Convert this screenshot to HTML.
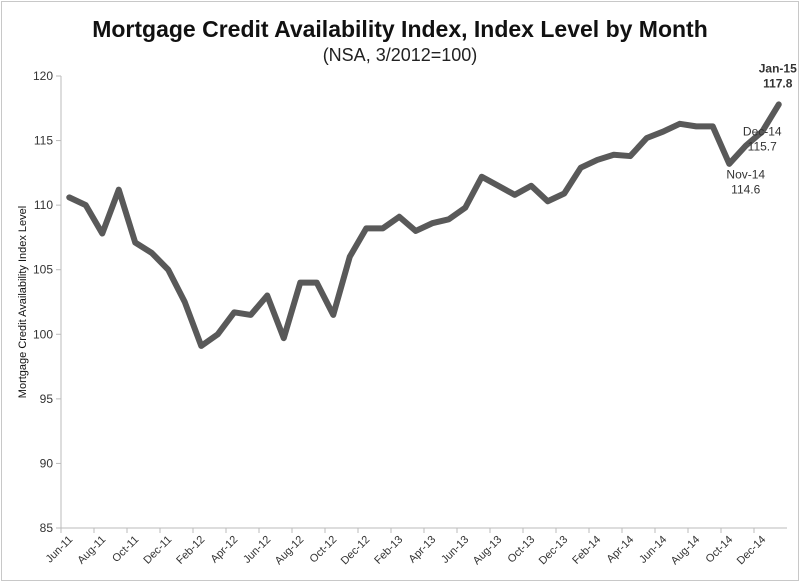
<!DOCTYPE html>
<html><head><meta charset="utf-8"><style>
body{margin:0;background:#fff;}
svg{display:block;font-family:"Liberation Sans",sans-serif;}
</style></head><body>
<svg width="800" height="583" viewBox="0 0 800 583">
<rect x="1.5" y="1.5" width="797" height="579" fill="#fff" stroke="#c8c8c8"/>
<text x="400" y="37" text-anchor="middle" font-size="23" font-weight="bold" fill="#111">Mortgage Credit Availability Index, Index Level by Month</text>
<text x="400" y="61" text-anchor="middle" font-size="18" fill="#222">(NSA, 3/2012=100)</text>
<text transform="translate(26,302) rotate(-90)" text-anchor="middle" font-size="11" fill="#111">Mortgage Credit Availability Index Level</text>
<g id="axes"></g>
<g id="marks"></g>
</svg>
<script>
const categories=["Jun-11","Jul-11","Aug-11","Sep-11","Oct-11","Nov-11","Dec-11","Jan-12","Feb-12","Mar-12","Apr-12","May-12","Jun-12","Jul-12","Aug-12","Sep-12","Oct-12","Nov-12","Dec-12","Jan-13","Feb-13","Mar-13","Apr-13","May-13","Jun-13","Jul-13","Aug-13","Sep-13","Oct-13","Nov-13","Dec-13","Jan-14","Feb-14","Mar-14","Apr-14","May-14","Jun-14","Jul-14","Aug-14","Sep-14","Oct-14","Nov-14","Dec-14","Jan-15"];
const values=[110.6,110.0,107.8,111.2,107.1,106.3,105.0,102.5,99.1,100.0,101.7,101.5,103.0,99.7,104.0,104.0,101.5,106.0,108.2,108.2,109.1,108.0,108.6,108.9,109.8,112.2,111.5,110.8,111.5,110.3,110.9,112.9,113.5,113.9,113.8,115.2,115.7,116.3,116.1,116.1,113.2,114.6,115.7,117.8];
const yTicks=[85,90,95,100,105,110,115,120];
const NS="http://www.w3.org/2000/svg";
const x0=61,step=16.5,yMin=85,yMax=120,yBot=528,yTop=76;
const xC=i=>x0+step*(i+0.5);
const xB=i=>x0+step*i;
const y=v=>yBot-(v-yMin)/(yMax-yMin)*(yBot-yTop);
function mk(tag,attrs,parent,txt){const e=document.createElementNS(NS,tag);for(const k in attrs)e.setAttribute(k,attrs[k]);if(txt!==undefined)e.textContent=txt;parent.appendChild(e);return e;}
const ax=document.getElementById('axes'),mg=document.getElementById('marks');
let l=mk('line',{x1:x0,y1:yTop,x2:x0,y2:yBot,stroke:'#bbb'},ax);


l=mk('line',{x1:x0,y1:yBot,x2:xB(categories.length),y2:yBot,stroke:'#bbb'},ax);


yTicks.forEach(v=>{
 const t=mk('line',{x1:x0-5,y1:y(v),x2:x0,y2:y(v),stroke:'#bbb'},ax);
 
 
 const tx=mk('text',{x:x0-8,y:y(v)+4,'text-anchor':'end','font-size':'12',fill:'#333'},ax,String(v));
 
 
});
categories.forEach((c,i)=>{
 if(i%2!==0)return;
 const t=mk('line',{x1:xB(i),y1:yBot,x2:xB(i),y2:yBot+5,stroke:'#bbb'},ax);
 
 
 const tx=mk('text',{x:0,y:0,'text-anchor':'end','font-size':'11',fill:'#333',transform:`translate(${xC(i)+4},${yBot+12}) rotate(-45)`},ax,c);
 
 
});
const p=mk('polyline',{points:values.map((v,i)=>xC(i)+','+y(v)).join(' '),fill:'none',stroke:'#595959','stroke-width':'6','stroke-linejoin':'round','stroke-linecap':'round'},mg);


const n=values.length;
function lab(i,dx,dy,bold,name){
 const g=mk('text',{x:xC(i)+dx,y:y(values[i])+dy,'text-anchor':'middle','font-size':'12',fill:'#333','font-weight':bold?'bold':'normal'},mg);
 
 
 mk('tspan',{x:xC(i)+dx,dy:0},g,categories[i]);
 mk('tspan',{x:xC(i)+dx,dy:15},g,values[i].toFixed(1));
}
lab(n-1,-1,-32,true,'label-jan-15');
lab(n-2,0,4,false,'label-dec-14');
lab(n-3,0,33,false,'label-nov-14');
</script>
</body></html>
